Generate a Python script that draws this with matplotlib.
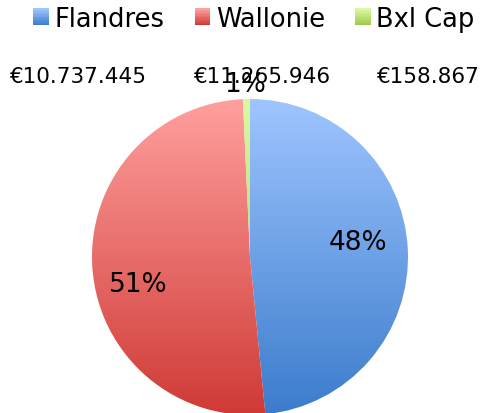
import numpy as np
import matplotlib
matplotlib.use("Agg")
import matplotlib.pyplot as plt
from matplotlib.colors import LinearSegmentedColormap, to_rgb
from matplotlib.patches import Rectangle
from matplotlib.legend_handler import HandlerPatch

categories = ["Flandres", "Wallonie", "Bxl Cap"]
values = [10737445, 11265946, 158867]
value_labels = ["€10.737.445", "€11.265.946", "€158.867"]

top_colors = ["#9fc5ff", "#ffa09e", "#dcf9a0"]
bottom_colors = ["#3b7ccc", "#cf3a36", "#9cc850"]

plt.rcParams['font.family'] = ['DejaVu Sans']

fig = plt.figure(figsize=(4.82, 4.14), dpi=100)
ax = fig.add_axes([(250 - 158) / 482, (414 - 258 - 158) / 414, 316 / 482, 316 / 414])

wedges, texts, autotexts = ax.pie(values, startangle=90, counterclock=False,
                                  autopct='%.0f%%', pctdistance=0.7,
                                  wedgeprops=dict(edgecolor='none', linewidth=0),
                                  textprops=dict(fontsize=19, color='black'))
ax.set_xlim(-1, 1)
ax.set_ylim(-1, 1)
ax.set_aspect('equal')
ax.axis('off')

grad = np.linspace(0, 1, 256).reshape(-1, 1)
for w, tc, bc in zip(wedges, top_colors, bottom_colors):
    cmap = LinearSegmentedColormap.from_list('g', [tc, bc])
    im = ax.imshow(grad, cmap=cmap, extent=(-1, 1, -1, 1), origin='upper',
                   aspect='auto', zorder=w.get_zorder())
    im.set_clip_path(w)
    w.set_facecolor('none')

# percent label placement (like the reference)
autotexts[0].set_position((0.684, 0.095))
autotexts[1].set_position((-0.709, -0.171))
autotexts[2].set_position((-0.03, 1.095))
for t in autotexts:
    t.set_clip_on(False)

# value labels row
for lbl, xf in zip(value_labels, [78 / 482, 262 / 482, 427 / 482]):
    fig.text(xf, 1 - 77 / 414, lbl, ha='center', va='center', fontsize=15.5, color='black')


class GradientHandler(HandlerPatch):
    def __init__(self, tc, bc, **kw):
        super().__init__(**kw)
        self.tc = np.array(to_rgb(tc))
        self.bc = np.array(to_rgb(bc))

    def create_artists(self, legend, orig_handle, xdescent, ydescent, width, height, fontsize, trans):
        n = 12
        arts = []
        for i in range(n):
            f = i / (n - 1)
            col = self.bc * (1 - f) + self.tc * f
            r = Rectangle((-xdescent, -ydescent + height * i / n), width, height / n + 0.3,
                          facecolor=col, edgecolor='none', transform=trans)
            arts.append(r)
        return arts


handles = [Rectangle((0, 0), 1, 1) for _ in categories]
hmap = {h: GradientHandler(tc, bc) for h, tc, bc in zip(handles, top_colors, bottom_colors)}
fig.legend(handles, categories, loc='center', bbox_to_anchor=(254 / 482, 1 - 20 / 414),
           ncol=3, frameon=False, fontsize=18.5, handlelength=0.62, handleheight=0.62,
           handletextpad=0.22, columnspacing=1.15, borderaxespad=0, borderpad=0,
           handler_map=hmap)

fig.savefig('out.png', dpi=100)
